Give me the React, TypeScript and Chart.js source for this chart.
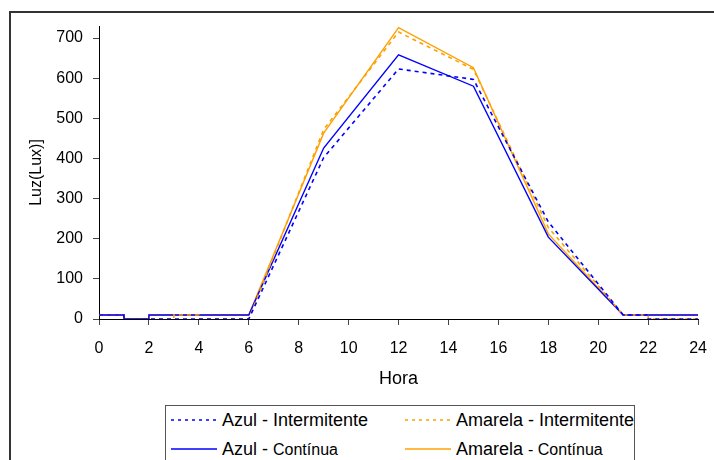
import React, { useEffect, useRef } from "react";
import { Chart, registerables } from "chart.js";

Chart.register(...registerables);

// Hours (x) and light (Lux) values for each series
const azulIntHours = [0, 1, 1, 2, 6, 9, 12, 15, 18, 21, 22, 22, 24];
const azulIntValues = [10, 10, 0, 0, 0, 402, 623, 597, 242, 10, 10, 0, 0];

const amarelaIntHours = [0, 1, 1, 3, 3, 4, 4, 6, 9, 12, 15, 18, 21, 22, 22, 24];
const amarelaIntValues = [10, 10, 0, 0, 10, 10, 0, 0, 472, 715, 622, 228, 10, 10, 0, 0];

const azulContHours = [0, 1, 1, 2, 2, 6, 9, 12, 15, 18, 21, 24];
const azulContValues = [10, 10, 0, 0, 10, 10, 426, 658, 580, 204, 10, 10];

const amarelaContHours = [0, 1, 1, 2, 2, 6, 9, 12, 15, 18, 21, 24];
const amarelaContValues = [10, 10, 0, 0, 10, 10, 463, 726, 626, 212, 10, 10];

const yTicks = [0, 100, 200, 300, 400, 500, 600, 700];
const xTicks = [0, 2, 4, 6, 8, 10, 12, 14, 16, 18, 20, 22, 24];

const BLUE = "#0000FF";
const ORANGE = "#FFA000";
const FONT = "'Liberation Sans', Arial, sans-serif";

const pts = (xs: number[], ys: number[]) => xs.map((x, i) => ({ x, y: ys[i] }));

export default function App() {
  const ref = useRef<HTMLCanvasElement | null>(null);

  useEffect(() => {
    if (!ref.current) return;
    const chart = new Chart(ref.current, {
      type: "line",
      data: {
        datasets: [
          {
            label: "Azul - Intermitente",
            data: pts(azulIntHours, azulIntValues),
            borderColor: BLUE,
            borderWidth: 1.6,
            borderDash: [4, 4],
            pointRadius: 0,
            tension: 0,
          },
          {
            label: "Amarela - Intermitente",
            data: pts(amarelaIntHours, amarelaIntValues),
            borderColor: ORANGE,
            borderWidth: 1.6,
            borderDash: [4, 4],
            pointRadius: 0,
            tension: 0,
          },
          {
            label: "Azul - Contínua",
            data: pts(azulContHours, azulContValues),
            borderColor: BLUE,
            borderWidth: 1.4,
            pointRadius: 0,
            tension: 0,
          },
          {
            label: "Amarela - Contínua",
            data: pts(amarelaContHours, amarelaContValues),
            borderColor: ORANGE,
            borderWidth: 1.4,
            pointRadius: 0,
            tension: 0,
          },
        ],
      },
      options: {
        animation: false,
        responsive: false,
        maintainAspectRatio: false,
        layout: { padding: { left: 0, right: 10, top: 26, bottom: 9 } },
        plugins: { legend: { display: false }, tooltip: { enabled: false } },
        scales: {
          x: {
            type: "linear",
            min: 0,
            max: 24,
            afterBuildTicks: (s: any) => {
              s.ticks = xTicks.map((v) => ({ value: v }));
            },
            afterFit: (s: any) => {
              s.height = 72;
            },
            grid: {
              drawOnChartArea: false,
              drawTicks: true,
              tickLength: 6,
              tickColor: "#444",
            },
            border: { display: true, color: "#000", width: 1 },
            ticks: {
              color: "#000",
              font: { family: FONT, size: 16 },
              padding: 14,
              maxRotation: 0,
            },
            title: {
              display: true,
              text: "Hora",
              color: "#000",
              font: { family: FONT, size: 18 },
              padding: { top: 0, bottom: 1 },
            },
          },
          y: {
            type: "linear",
            min: 0,
            max: 730,
            afterBuildTicks: (s: any) => {
              s.ticks = yTicks.map((v) => ({ value: v }));
            },
            afterFit: (s: any) => {
              s.width = 99;
            },
            grid: {
              drawOnChartArea: false,
              drawTicks: true,
              tickLength: 6,
              tickColor: "#444",
            },
            border: { display: true, color: "#000", width: 1 },
            ticks: {
              color: "#000",
              font: { family: FONT, size: 16 },
              padding: 10,
            },
            title: {
              display: true,
              text: "Luz(Lux)]",
              color: "#000",
              font: { family: FONT, size: 16 },
              padding: { top: 27, bottom: 0 },
            },
          },
        },
      },
    });
    return () => chart.destroy();
  }, []);

  const sample = (color: string, dashed: boolean) => (
    <svg width={46} height={6} style={{ display: "block", flex: "none" }}>
      <line
        x1={0}
        y1={3}
        x2={46}
        y2={3}
        stroke={color}
        strokeWidth={dashed ? 1.3 : 1.6}
        strokeDasharray={dashed ? "3 4" : undefined}
      />
    </svg>
  );

  const item = (left: number, top: number, color: string, dashed: boolean, main: string, tail: string, tailSize: number) => (
    <div
      style={{
        position: "absolute",
        left,
        top,
        display: "flex",
        alignItems: "center",
        whiteSpace: "pre",
        fontFamily: FONT,
        color: "#000",
        height: 22,
      }}
    >
      {sample(color, dashed)}
      <span style={{ marginLeft: 5, fontSize: 18, whiteSpace: "pre" }}>
        {main}
        <span style={{ fontSize: tailSize }}>{tail}</span>
      </span>
    </div>
  );

  return (
    <div
      style={{
        position: "absolute",
        left: 0,
        top: 0,
        width: 714,
        height: 460,
        overflow: "hidden",
        background: "#fff",
      }}
    >
      <div
        style={{
          position: "absolute",
          left: 9,
          top: 11,
          width: 720,
          height: 470,
          borderLeft: "2px solid #333",
          borderTop: "2px solid #333",
        }}
      />
      <canvas ref={ref} width={721} height={400} style={{ position: "absolute", left: 0, top: 0 }} />
      <div
        style={{
          position: "absolute",
          left: 165,
          top: 405,
          width: 468,
          height: 70,
          border: "1px solid #555",
        }}
      />
      {item(171, 409, BLUE, true, "Azul - ", "Intermitente", 18)}
      {item(405, 409, ORANGE, true, "Amarela - ", "Intermitente", 18)}
      {item(171, 438, BLUE, false, "Azul - ", "Contínua", 16)}
      {item(405, 438, ORANGE, false, "Amarela ", "- Contínua", 16)}
    </div>
  );
}
